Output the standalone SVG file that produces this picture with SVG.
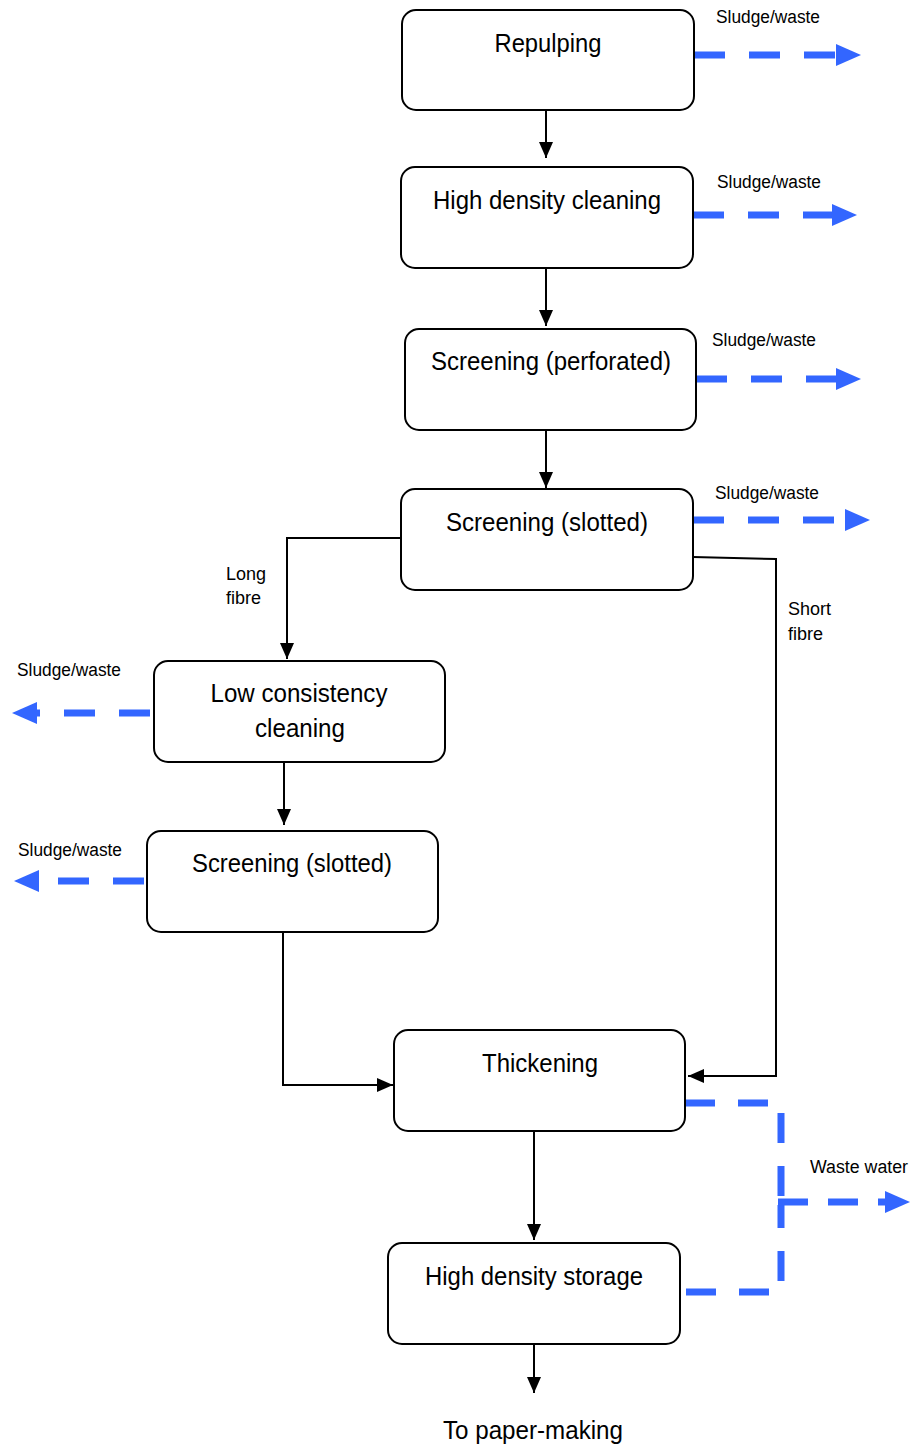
<svg xmlns="http://www.w3.org/2000/svg" width="913" height="1450" viewBox="0 0 913 1450">
  <defs>
    <marker id="arrow" markerUnits="userSpaceOnUse" markerWidth="16" markerHeight="14" refX="16" refY="7" orient="auto">
      <polygon points="0,0 16,7 0,14" fill="#000"/>
    </marker>
    <marker id="blueArrow" markerUnits="userSpaceOnUse" markerWidth="26" markerHeight="24" refX="2" refY="12" orient="auto">
      <polygon points="0,1 25,12 0,23" fill="#3366FF"/>
    </marker>
    <style>
      .box { fill: #fff; stroke: #000; stroke-width: 2; }
      .label { font-family: "Liberation Sans", Arial, sans-serif; font-size: 25px; fill: #000; text-anchor: middle; }
      .small { font-family: "Liberation Sans", Arial, sans-serif; font-size: 18px; fill: #000; }
      .flow { fill: none; stroke: #000; stroke-width: 2; }
      .waste { fill: none; stroke: #3366FF; stroke-width: 7; stroke-dasharray: 31 24; }
    </style>
  </defs>

  <!-- process connectors -->
  <g id="connectors">
    <path class="flow" d="M546,110 V158" marker-end="url(#arrow)"/>
    <path class="flow" d="M546,268 V326" marker-end="url(#arrow)"/>
    <path class="flow" d="M546,430 V488" marker-end="url(#arrow)"/>
    <path class="flow" d="M400,538 H287 V659" marker-end="url(#arrow)"/>
    <path class="flow" d="M284,763 V825" marker-end="url(#arrow)"/>
    <path class="flow" d="M283,932 V1085 H393" marker-end="url(#arrow)"/>
    <path class="flow" d="M693,557 L776,559 V1076 H688" marker-end="url(#arrow)"/>
    <path class="flow" d="M534,1131 V1240" marker-end="url(#arrow)"/>
    <path class="flow" d="M534,1344 V1393" marker-end="url(#arrow)"/>

    <!-- sludge / waste streams -->
    <path class="waste" d="M694,55 H838" marker-end="url(#blueArrow)"/>
    <path class="waste" d="M693,215 H834" marker-end="url(#blueArrow)"/>
    <path class="waste" d="M696,379 H838" marker-end="url(#blueArrow)"/>
    <path class="waste" d="M693,520 H847" marker-end="url(#blueArrow)"/>
    <path class="waste" d="M150,713 H35" marker-end="url(#blueArrow)"/>
    <path class="waste" d="M144,881 H37" marker-end="url(#blueArrow)"/>
    <!-- waste water collected from thickening and storage -->
    <path class="waste" style="stroke-dasharray: 30 23" d="M685,1103 H781 V1199"/>
    <path class="waste" style="stroke-dasharray: 30 23" d="M686,1292 H781 V1205"/>
    <path class="waste" style="stroke-dasharray: 30 20" d="M778,1202 H887" marker-end="url(#blueArrow)"/>
  </g>

  <g id="repulping">
    <rect class="box" x="402" y="10" width="292" height="100" rx="14"/>
    <text class="label" x="548" y="52" textLength="107" lengthAdjust="spacingAndGlyphs">Repulping</text>
  </g>
  <g id="high-density-cleaning">
    <rect class="box" x="401" y="167" width="292" height="101" rx="14"/>
    <text class="label" x="547" y="209" textLength="228" lengthAdjust="spacingAndGlyphs">High density cleaning</text>
  </g>
  <g id="screening-perforated">
    <rect class="box" x="405" y="329" width="291" height="101" rx="14"/>
    <text class="label" x="551" y="370" textLength="240" lengthAdjust="spacingAndGlyphs">Screening (perforated)</text>
  </g>
  <g id="screening-slotted-1">
    <rect class="box" x="401" y="489" width="292" height="101" rx="14"/>
    <text class="label" x="547" y="531" textLength="202" lengthAdjust="spacingAndGlyphs">Screening (slotted)</text>
  </g>
  <g id="low-consistency-cleaning">
    <rect class="box" x="154" y="661" width="291" height="101" rx="14"/>
    <text class="label" x="299" y="702" textLength="177" lengthAdjust="spacingAndGlyphs">Low consistency</text>
    <text class="label" x="300" y="737" textLength="90" lengthAdjust="spacingAndGlyphs">cleaning</text>
  </g>
  <g id="screening-slotted-2">
    <rect class="box" x="147" y="831" width="291" height="101" rx="14"/>
    <text class="label" x="292" y="872" textLength="200" lengthAdjust="spacingAndGlyphs">Screening (slotted)</text>
  </g>
  <g id="thickening">
    <rect class="box" x="394" y="1030" width="291" height="101" rx="14"/>
    <text class="label" x="540" y="1072" textLength="116" lengthAdjust="spacingAndGlyphs">Thickening</text>
  </g>
  <g id="high-density-storage">
    <rect class="box" x="388" y="1243" width="292" height="101" rx="14"/>
    <text class="label" x="534" y="1285" textLength="218" lengthAdjust="spacingAndGlyphs">High density storage</text>
  </g>
  <g id="to-paper-making">
    <text class="label" x="533" y="1439" textLength="180" lengthAdjust="spacingAndGlyphs">To paper-making</text>
  </g>

  <!-- stream labels -->
  <g id="stream-labels">
    <text class="small" x="716" y="23" textLength="104" lengthAdjust="spacingAndGlyphs">Sludge/waste</text>
    <text class="small" x="717" y="188" textLength="104" lengthAdjust="spacingAndGlyphs">Sludge/waste</text>
    <text class="small" x="712" y="346" textLength="104" lengthAdjust="spacingAndGlyphs">Sludge/waste</text>
    <text class="small" x="715" y="499" textLength="104" lengthAdjust="spacingAndGlyphs">Sludge/waste</text>
    <text class="small" x="17" y="676" textLength="104" lengthAdjust="spacingAndGlyphs">Sludge/waste</text>
    <text class="small" x="18" y="856" textLength="104" lengthAdjust="spacingAndGlyphs">Sludge/waste</text>
    <text class="small" x="226" y="580">Long</text>
    <text class="small" x="226" y="604">fibre</text>
    <text class="small" x="788" y="615">Short</text>
    <text class="small" x="788" y="640">fibre</text>
    <text class="small" x="810" y="1173" textLength="98" lengthAdjust="spacingAndGlyphs">Waste water</text>
  </g>
</svg>
